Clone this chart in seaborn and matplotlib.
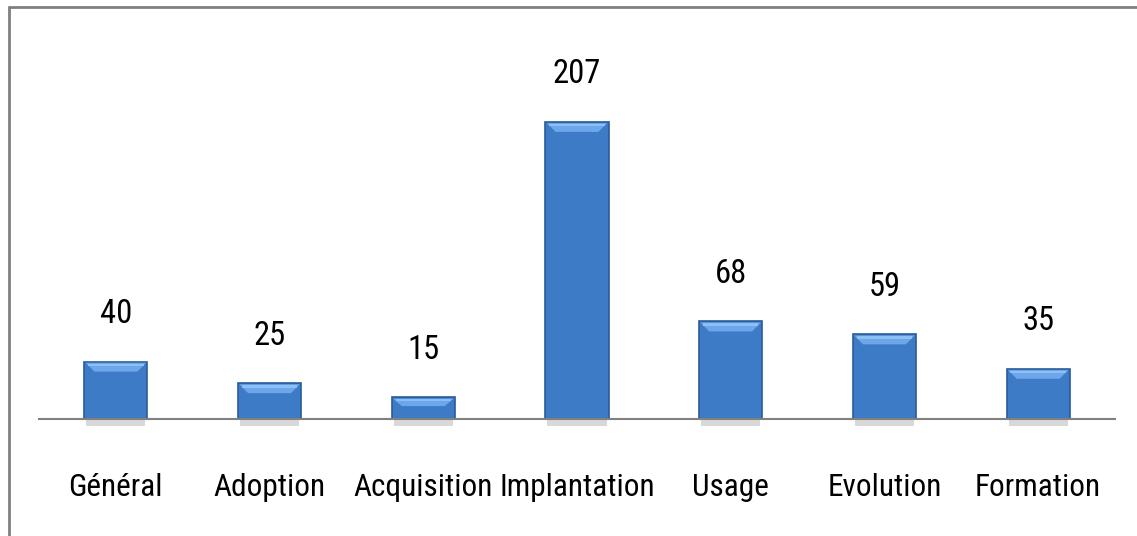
import matplotlib
matplotlib.use('Agg')
import matplotlib.pyplot as plt
import matplotlib.patches as mpatches
from matplotlib import font_manager
import seaborn as sns
import pandas as pd

categories = ['Général', 'Adoption', 'Acquisition', 'Implantation', 'Usage', 'Evolution', 'Formation']
counts = [40, 25, 15, 207, 68, 59, 35]

# the reference uses a narrow font; take a condensed one if there is one
names = {f.name for f in font_manager.fontManager.ttflist}
narrow = [n for n in ['Liberation Sans Narrow', 'Roboto Condensed', 'Open Sans Condensed',
                      'DejaVu Sans Condensed', 'Noto Sans Condensed'] if n in names]

sns.set_style('white')
if narrow:
    plt.rcParams['font.family'] = [narrow[0], 'DejaVu Sans']
    tick_size, value_size = 22.5, 23.5
else:
    plt.rcParams['font.family'] = ['DejaVu Sans']
    tick_size, value_size = 17.5, 18

df = pd.DataFrame({'category': categories, 'count': counts})

fig = plt.figure(figsize=(11.37, 5.36), dpi=100)
ax = fig.add_axes([39 / 1137, 117 / 536, 1076 / 1137, 412 / 536])

sns.barplot(data=df, x='category', y='count', color='#3D7BC7', width=0.41,
            saturation=1, edgecolor='#2A5B98', linewidth=1.2, ax=ax)

ax.set_ylim(0, 287)
ax.set_xlim(-0.5, len(categories) - 0.5)

for bar, val in zip(ax.patches, counts):
    x0 = bar.get_x()
    w = bar.get_width()
    h = bar.get_height()
    # bevelled top of each bar
    band = min(7, h * 0.4)
    inset = w * 0.16
    ax.add_patch(mpatches.Polygon([(x0 + w * 0.02, h - 0.8), (x0 + w * 0.98, h - 0.8),
                                   (x0 + w - inset, h - band), (x0 + inset, h - band)],
                                  closed=True, color='#6EA6EA', lw=0, zorder=3))
    ax.add_patch(mpatches.Rectangle((x0 + w * 0.06, h - band * 0.45), w * 0.88, band * 0.25,
                                    color='#8CC0F5', lw=0, zorder=3))
    # soft shadow under baseline
    ax.add_patch(mpatches.Rectangle((x0 + w * 0.03, -5), w * 0.94, 5, color='#D8D8D8', lw=0,
                                    clip_on=False, zorder=1))
    ax.text(x0 + w / 2, h + 33, str(val), ha='center', va='center', fontsize=value_size,
            color='black')

ax.set_xlabel('')
ax.set_ylabel('')
ax.set_yticks([])
ax.tick_params(axis='x', length=0, pad=39, labelsize=tick_size, labelcolor='black')
for s in ['top', 'right', 'left']:
    ax.spines[s].set_visible(False)
ax.spines['bottom'].set_color('#808080')
ax.spines['bottom'].set_linewidth(1.5)

# outer frame (top and left edges visible)
fig.add_artist(plt.Line2D([9 / 1137, 1], [1 - 7 / 536, 1 - 7 / 536], color='#808080', lw=2))
fig.add_artist(plt.Line2D([9 / 1137, 9 / 1137], [0, 1 - 7 / 536], color='#808080', lw=2))

fig.savefig('out.png', dpi=100)
